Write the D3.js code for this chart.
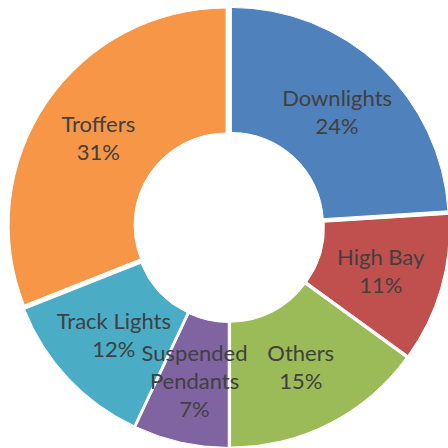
<!DOCTYPE html>
<html>
<head>
<meta charset="utf-8">
<script src="https://cdn.jsdelivr.net/npm/d3@7"></script>
<style>
  body { margin: 0; background: #fff; }
  svg { display: block; }
</style>
</head>
<body>
<div id="chart"></div>
<script>
// slice data, clockwise from 12 o'clock
var categories = ["Downlights", "High Bay", "Others", "Suspended Pendants", "Track Lights", "Troffers"];
var shares = [24, 11, 15, 7, 12, 31];
var labelLines = [["Downlights"], ["High Bay"], ["Others"], ["Suspended", "Pendants"], ["Track Lights"], ["Troffers"]];
var colors = ["#4F81BD", "#C0504D", "#9BBB59", "#8064A2", "#4BACC6", "#F79646"];

var width = 448, height = 448;
var cx = 229, cy = 227;
var outerR = 217, innerR = 92;
var explode = 3.5;
var lineH = 28;

var svg = d3.select("#chart").append("svg")
    .attr("width", width)
    .attr("height", height);

var total = d3.sum(shares);
var pie = d3.pie().sort(null).value(function(d) { return d; });
var arcs = pie(shares);

var arc = d3.arc().innerRadius(innerR).outerRadius(outerR);
var labelArc = d3.arc().innerRadius((innerR + outerR) / 2).outerRadius((innerR + outerR) / 2);

function offset(d) {
  var a = (d.startAngle + d.endAngle) / 2;
  return [Math.sin(a) * explode, -Math.cos(a) * explode];
}

var g = svg.append("g").attr("transform", "translate(" + cx + "," + cy + ")");

g.append("g").attr("class", "slices")
  .selectAll("path")
    .data(arcs)
    .enter().append("path")
    .attr("transform", function(d) { var o = offset(d); return "translate(" + o[0] + "," + o[1] + ")"; })
    .attr("d", arc)
    .attr("fill", function(d, i) { return colors[i]; })
    .attr("stroke", "#fff")
    .attr("stroke-width", 1);

// labels on top of every slice: name + percent, centred on mid radius
var labels = g.append("g").attr("class", "labels");
arcs.forEach(function(d, i) {
  var c = labelArc.centroid(d), o = offset(d);
  var lines = labelLines[i].concat([Math.round(d.value / total * 100) + "%"]);
  var t = labels.append("text")
      .attr("text-anchor", "middle")
      .attr("fill", "#404040")
      .style("font-family", "Lato, 'Open Sans', sans-serif")
      .style("font-size", "22px");
  lines.forEach(function(s, k) {
    t.append("tspan")
      .attr("x", c[0] + o[0])
      .attr("y", c[1] + o[1] + (k - (lines.length - 1) / 2) * lineH)
      .attr("dy", "0.35em")
      .text(s);
  });
});
</script>
</body>
</html>
